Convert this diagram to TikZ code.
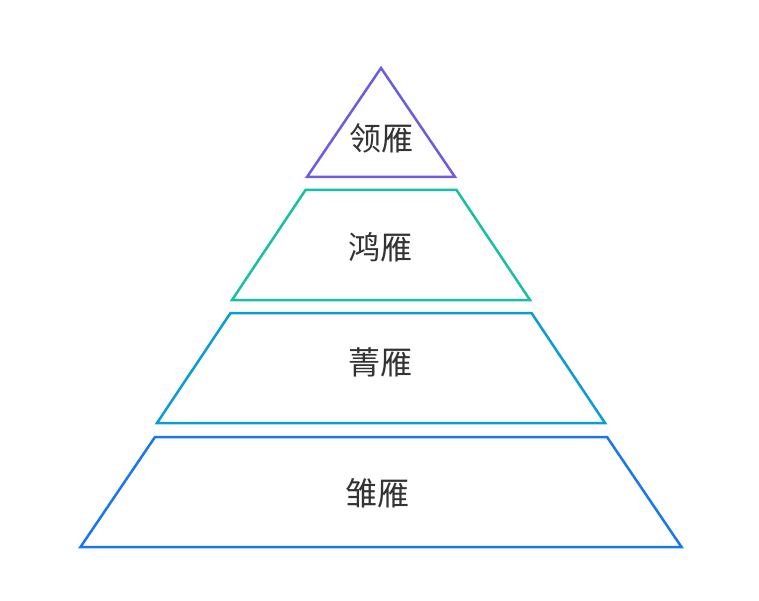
\documentclass[tikz,border=0pt]{standalone}
\usepackage{fontspec}
\newfontfamily\cjk{Noto Sans CJK SC}
\usepackage{tikz}
\usetikzlibrary{calc,positioning}
\definecolor{lvlone}{HTML}{6C5CE0}
\definecolor{lvltwo}{HTML}{16C0A8}
\definecolor{lvlthree}{HTML}{0A9BD9}
\definecolor{lvlfour}{HTML}{1877F0}
\definecolor{lvltext}{HTML}{333333}
\tikzset{
  pyramid schemes/.style = {
    x = 1pt, y = -1pt,
    % Ярус
    tier/.style  = {line width = 2.5pt, line join = miter, fill = white},
    % Подпись яруса
    tierlabel/.style = {font = \cjk\fontsize{32}{36}\selectfont,
      text = lvltext, inner sep = 0pt},
  }
}

\begin{document}
\begin{tikzpicture}[pyramid schemes]
\useasboundingbox (0,0) rectangle (759,601);

% ярусы: верх, низ, полуширина сверху, полуширина снизу, цвет
\foreach \ytop/\ybot/\wtop/\wbot/\col in {
    68/177/0/74/lvlone,
    190/300/75.5/149/lvltwo,
    313/423/150.5/224/lvlthree,
    437/547/226/300.5/lvlfour}
  \draw[tier, draw=\col]
    (381-\wtop,\ytop) -- (381+\wtop,\ytop) -- (381+\wbot,\ybot)
    -- (381-\wbot,\ybot) -- cycle;

\node[tierlabel] (leader) at (381,138) {领雁};
\node[tierlabel] (swan)   at (380,247) {鸿雁};
\node[tierlabel] (elite)  at (380,362) {菁雁};
\node[tierlabel] (chick)  at (377,493) {雏雁};

\end{tikzpicture}
\end{document}
